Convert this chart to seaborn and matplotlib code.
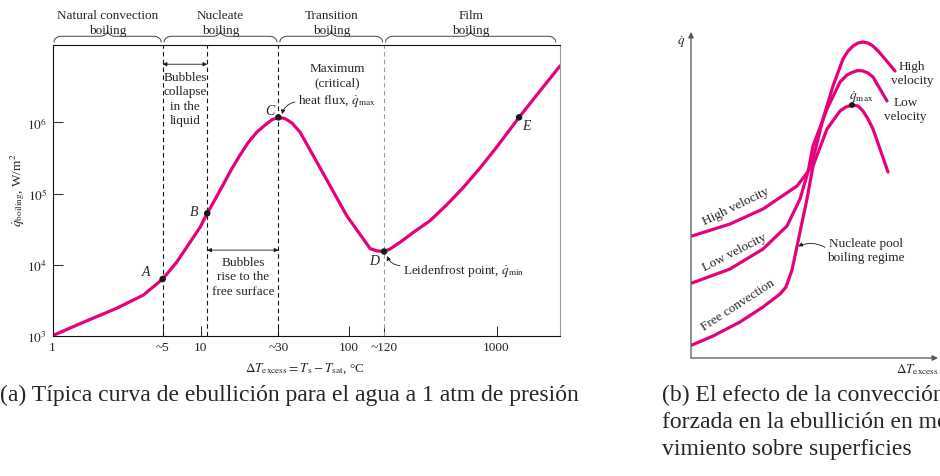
import numpy as np
import matplotlib
matplotlib.use('Agg')
import matplotlib.pyplot as plt
import seaborn as sns
from matplotlib.transforms import blended_transform_factory
from matplotlib.ticker import NullLocator

# (a) curva de ebullición del agua a 1 atm
dt_exceso = [1.0, 1.61, 2.71, 4.11, 5.55, 6.90, 8.49, 9.93, 11.1, 12.5, 14.3, 16.2,
             18.5, 21.0, 24.0, 27.3, 30.3, 33.6, 37.2, 41.5, 47.0, 57.5, 75.0, 97.3, 126,
             140, 156, 174, 191, 223, 274, 355, 461, 597, 774, 1000, 1420, 1970, 2690]
q_ebull = [1000, 1540, 2430, 3730, 6270, 10800, 20600, 33500, 52700, 81800, 136000,
           220000, 348000, 522000, 730000, 9.20e5, 1.09e6, 1.18e6, 1.135e6, 9.82e5, 7.33e5,
           3.48e5, 1.29e5, 48700, 22900, 16800, 15600, 15300, 16600, 20600, 28400, 41400,
           69500, 122000, 229000, 447000, 1.18e6, 2.79e6, 6.27e6]

puntos = ['A', 'B', 'C', 'D', 'E']
pt_dt = [5.55, 11.1, 33.6, 174, 1420]
pt_q = [6270, 52700, 1.18e6, 15300, 1.18e6]

x_ticks = [1, 5.55, 10, 33.6, 100, 174, 1000]
x_labels = ['1', '~5', '10', '~30', '100', '~120', '1000']
y_ticks = [1e3, 1e4, 1e5, 1e6]
y_labels = ['$10^3$', '$10^4$', '$10^5$', '$10^6$']

regimenes = ['Natural convection\nboiling', 'Nucleate\nboiling', 'Transition\nboiling', 'Film\nboiling']

# (b) esquema, unidades arbitrarias
fc_x = [1, 22, 49, 72, 89, 95, 101, 104, 109, 116, 122, 136, 149, 155, 161, 167, 172, 177,
        182, 189, 197]
fc_y = [13, 22, 36, 51, 64, 71, 88, 102, 126, 159, 192, 229, 247, 251, 253, 252, 247, 239,
        229, 209, 186]
lv_x = [1, 39, 72, 96, 109, 117, 122, 136, 149, 156, 162, 167, 172, 177, 182, 189, 196]
lv_y = [75, 89, 109, 132, 159, 186, 212, 249, 276, 283, 286, 287.5, 287, 285, 281, 269, 257]
hv_x = [1, 39, 72, 106, 119, 122, 132, 142, 152, 157, 162, 167, 172, 177, 182, 188, 194, 204]
hv_y = [122, 134, 149, 172, 189, 199, 239, 272, 299, 307, 312, 315, 316, 315, 312, 306, 299, 287]

sns.set_theme(style='white')
plt.rcParams['font.family'] = ['Liberation Serif', 'DejaVu Serif']
plt.rcParams['mathtext.fontset'] = 'stix'
plt.rcParams['lines.solid_joinstyle'] = 'round'
ROSA = '#e6007e'
FS = 9.5
LS = 1.28

fig = plt.figure(figsize=(9.4, 4.77), dpi=100)
W, H = 940, 477

ax = fig.add_axes([52.5 / W, 1 - 336.7 / H, (560 - 52.5) / W, (336.7 - 46) / H])
sns.lineplot(x=dt_exceso, y=q_ebull, ax=ax, color=ROSA, lw=2.3, sort=False, estimator=None)
ax.set_xscale('log')
ax.set_yscale('log')
ax.set_xlim(1, 2685)
ax.set_ylim(1e3, 1.23e7)
ax.xaxis.set_minor_locator(NullLocator())
ax.yaxis.set_minor_locator(NullLocator())
ax.set_xticks(x_ticks, x_labels)
ax.set_yticks(y_ticks, y_labels)
ax.tick_params(direction='in', length=7, width=0.7, labelsize=FS, colors='#222', pad=4,
               bottom=True, left=True)
for s in ['left', 'bottom', 'top']:
    ax.spines[s].set_color('#111')
    ax.spines[s].set_linewidth(0.8)
ax.spines['right'].set_color('#999')
ax.spines['right'].set_linewidth(0.8)

for i, x in enumerate(pt_dt[:4]):
    ax.axvline(x, color='#999' if i == 3 else '#111', lw=0.8, ls=(0, (4, 3)), zorder=1)

sns.scatterplot(x=pt_dt, y=pt_q, ax=ax, color='k', s=22, edgecolor='none', zorder=5)
off = [(-0.11, 0.11), (-0.09, 0.02), (-0.06, 0.10), (-0.065, -0.13), (0.05, -0.11)]
for p, x, q, (du, dv) in zip(puntos, pt_dt, pt_q, off):
    ax.text(x * 10 ** du, q * 10 ** dv, p, fontstyle='italic', fontsize=10,
            ha='center', va='center')

# flechas dobles
flecha = dict(arrowstyle='<|-|>', lw=0.6, color='k', mutation_scale=6, shrinkA=0, shrinkB=0)
ax.annotate('', xy=(pt_dt[1], 6.6e6), xytext=(pt_dt[0], 6.6e6), arrowprops=flecha)
ax.annotate('', xy=(pt_dt[2], 16000), xytext=(pt_dt[1], 16000), arrowprops=flecha)
ax.text(7.86, 2.17e6, 'Bubbles\ncollapse\nin the\nliquid', ha='center', va='center',
        fontsize=FS, linespacing=LS)
ax.text(19.4, 6900, 'Bubbles\nrise to the\nfree surface', ha='center', va='center',
        fontsize=FS, linespacing=LS)
ax.text(83.6, 3.36e6, 'Maximum\n(critical)\nheat flux, $\\dot{q}_{\\mathrm{max}}$',
        ha='center', va='center', fontsize=FS, linespacing=LS)
ax.annotate('', xy=(35.5, 1.31e6), xytext=(43.5, 1.94e6),
            arrowprops=dict(arrowstyle='-|>', lw=0.6, color='k', mutation_scale=6,
                            connectionstyle='arc3,rad=0.3', shrinkA=0, shrinkB=0))
ax.text(233, 8400, 'Leidenfrost point, $\\dot{q}_{\\mathrm{min}}$', ha='left', va='center',
        fontsize=FS)
ax.annotate('', xy=(182, 13200), xytext=(223, 9660),
            arrowprops=dict(arrowstyle='-|>', lw=0.6, color='k', mutation_scale=6,
                            connectionstyle='arc3,rad=-0.3', shrinkA=0, shrinkB=0))

# llaves de los regímenes
tr = blended_transform_factory(ax.transData, ax.transAxes)


def llave(u0, u1, v0=1.01, h=0.04, r=0.05):
    uc = (u0 + u1) / 2
    t = np.linspace(0, np.pi / 2, 15)
    u_a = u0 + r - r * np.cos(t)
    v_a = v0 + h / 2 * np.sin(t)
    u_b = uc - r + r * np.sin(t)
    v_b = v0 + h - h / 2 * np.cos(t)
    u = np.concatenate([u_a, u_b, (2 * uc - u_b)[::-1], (2 * uc - u_a)[::-1]])
    v = np.concatenate([v_a, v_b, v_b[::-1], v_a[::-1]])
    ax.plot(10 ** u, v, color='#444', lw=0.7, transform=tr, clip_on=False)
    return uc


bordes = [0.0, np.log10(pt_dt[0]), np.log10(pt_dt[2]), np.log10(pt_dt[3]), 3.41]
for k, nombre in enumerate(regimenes):
    uc = llave(bordes[k] + 0.01, bordes[k + 1] - 0.01)
    ax.text(10 ** uc, 1.078, nombre, transform=tr, ha='center', va='center',
            fontsize=FS, linespacing=1.35)

fig.text(18 / W, 1 - 190 / H, '$\\dot{q}_{\\mathrm{boiling}}$, W/m$^2$', rotation=90,
         ha='center', va='center', fontsize=FS)
fig.text(305 / W, 1 - 369 / H,
         '$\\Delta T_{\\mathrm{excess}} = T_{\\mathrm{s}} - T_{\\mathrm{sat}}$, °C',
         ha='center', va='center', fontsize=FS)

# (b)
ax2 = fig.add_axes([691 / W, 1 - 359 / H, 249 / W, 326 / H])
ax2.set_xlim(0, 249)
ax2.set_ylim(0, 326)
ax2.axis('off')
for xs, ys in [(fc_x, fc_y), (lv_x, lv_y), (hv_x, hv_y)]:
    sns.lineplot(x=xs, y=ys, ax=ax2, color=ROSA, lw=2.3, sort=False, estimator=None)
eje = dict(arrowstyle='-|>', lw=0.9, color='#555', mutation_scale=8, shrinkA=0, shrinkB=0)
ax2.annotate('', xy=(0, 326), xytext=(0, 0), arrowprops=eje, annotation_clip=False)
ax2.annotate('', xy=(247, 0), xytext=(0, 0), arrowprops=eje, annotation_clip=False)
sns.scatterplot(x=[fc_x[14]], y=[fc_y[14]], ax=ax2, color='k', s=18, edgecolor='none', zorder=5)

ax2.text(-6, 317, '$\\dot{q}$', ha='right', va='center', fontsize=FS, clip_on=False)
ax2.text(205, -11, '$\\Delta T_{\\mathrm{excess}}$', ha='left', va='center', fontsize=FS,
         clip_on=False)
ax2.text(170.7, 262.3, '$\\dot{q}_{\\mathrm{max}}$', ha='center', va='center', fontsize=FS)
ax2.text(221, 285, 'High\nvelocity', ha='center', va='center', fontsize=FS, linespacing=1.2,
         clip_on=False)
ax2.text(214.5, 249, 'Low\nvelocity', ha='center', va='center', fontsize=FS, linespacing=1.2)
ax2.text(44.7, 152.3, 'High velocity', rotation=26, rotation_mode='anchor', ha='center',
         va='center', fontsize=FS)
ax2.text(44, 106.7, 'Low velocity', rotation=27, rotation_mode='anchor', ha='center',
         va='center', fontsize=FS)
ax2.text(47.3, 53.3, 'Free convection', rotation=33, rotation_mode='anchor', ha='center',
         va='center', fontsize=FS)
ax2.text(175, 108.3, 'Nucleate pool\nboiling regime', ha='center', va='center',
         fontsize=FS, linespacing=1.25)
ax2.annotate('', xy=(107.3, 111.7), xytext=(134, 110.7),
             arrowprops=dict(arrowstyle='-|>', lw=0.6, color='k', mutation_scale=6,
                             connectionstyle='arc3,rad=0.25', shrinkA=0, shrinkB=0))

# leyendas de las figuras (la (b) queda cortada por el borde, como en el original)
CFS = 17
fig.text(0.5 / W, 1 - 395 / H, '(a) Típica curva de ebullición para el agua a 1 atm de presión',
         ha='left', va='center', fontsize=CFS)
fig.text(662 / W, 1 - 395 / H, '(b) El efecto de la convección', ha='left', va='center',
         fontsize=CFS)
fig.text(662 / W, 1 - 423 / H, 'forzada en la ebullición en mo-', ha='left', va='center',
         fontsize=CFS)
fig.text(662 / W, 1 - 450 / H, 'vimiento sobre superficies', ha='left', va='center',
         fontsize=CFS)

fig.savefig('out.png', dpi=100)
